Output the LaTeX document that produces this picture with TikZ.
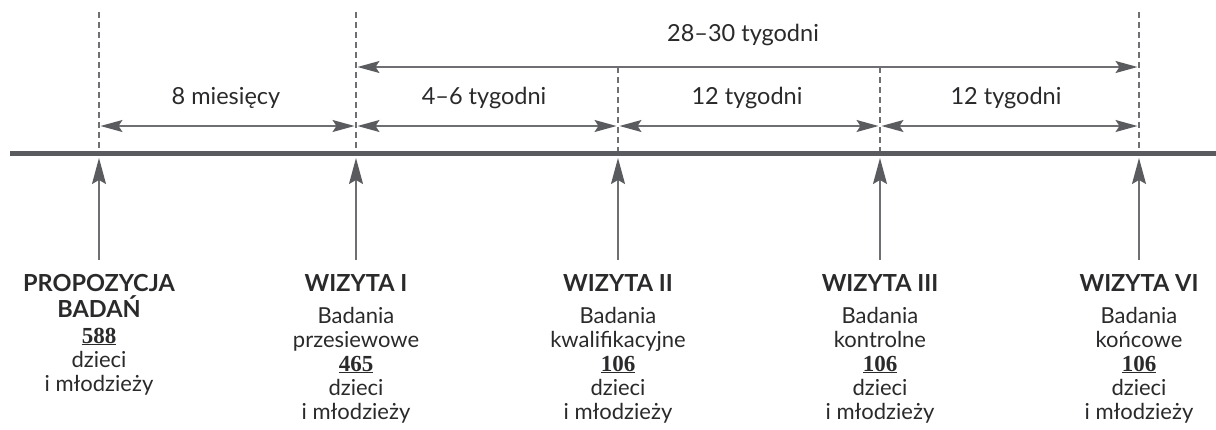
\documentclass[tikz,border=0pt]{standalone}
\usepackage{fontspec}
\setmainfont{Lato}
\newfontfamily\numfont{Liberation Serif}
\usetikzlibrary{arrows.meta}
\definecolor{axiscol}{HTML}{5A5B5E}
\definecolor{thincol}{HTML}{6E6F72}
\definecolor{txtcol}{HTML}{2A2A2C}
\newcommand{\num}[1]{\underline{\fontsize{23}{24}\numfont\bfseries #1}}
\newcommand{\head}[1]{{\fontsize{23.5}{24}\selectfont\bfseries #1}}
\begin{document}
\begin{tikzpicture}[x=1pt,y=-1pt,
  guide/.style={draw=thincol, line width=1.2pt, dash pattern=on 6pt off 4pt},
  dimline/.style={draw=thincol, line width=1.5pt,
    {Stealth[length=22pt,width=12pt,inset=4pt,color=axiscol]}-{Stealth[length=22pt,width=12pt,inset=4pt,color=axiscol]},
    shorten <=1.5pt, shorten >=1.5pt},
  uparrow/.style={draw=thincol, line width=1.5pt,
    -{Stealth[length=26pt,width=14pt,inset=4pt,color=axiscol]}},
  dimlabel/.style={anchor=base, inner sep=0pt, text=txtcol, font=\fontsize{23.5}{26}\selectfont},
  stage/.style={anchor=base, inner sep=0pt, align=center, text=txtcol, font=\fontsize{22}{24}\selectfont},
]
\useasboundingbox (0,0) rectangle (1216,429);

% positions
\foreach \n/\x in {0/99,1/356,2/618,3/880,4/1139}{
  \coordinate (axis\n) at (\x,153);
  \coordinate (low\n) at (\x,126);
  \coordinate (foot\n) at (\x,260);
  \coordinate (tip\n) at (\x,158);
}
\coordinate (top0) at (99,12);
\coordinate (top1) at (356,12);
\coordinate (top2) at (618,67);
\coordinate (top3) at (880,67);
\coordinate (top4) at (1139,12);
\coordinate (high1) at (356,67);
\coordinate (high4) at (1139,67);
\coordinate (axisL) at (10,153);
\coordinate (axisR) at (1216,153);

% dashed guides
\foreach \n in {0,...,4}{ \draw[guide] (top\n) -- (axis\n); }

% main axis
\draw[axiscol, line width=5pt] (axisL) -- (axisR);

% dimension arrows
\draw[dimline] (high1) -- (high4);
\draw[dimline] (low0) -- (low1);
\draw[dimline] (low1) -- (low2);
\draw[dimline] (low2) -- (low3);
\draw[dimline] (low3) -- (low4);

\node[dimlabel] (l5) at (743,41) {28–30 tygodni};
\node[dimlabel] (l1) at (226,104) {8 miesięcy};
\node[dimlabel] (l2) at (484,104) {4–6 tygodni};
\node[dimlabel] (l3) at (747,104) {12 tygodni};
\node[dimlabel] (l4) at (1006,104) {12 tygodni};

% up arrows
\foreach \n in {0,...,4}{ \draw[uparrow] (foot\n) -- (tip\n); }

% stage labels (anchor base = baseline of last line)
\node[stage] (s0) at (99,391) {\head{PROPOZYCJA}\\[2pt]\head{BADAŃ}\\[2pt]\num{588}\\dzieci\\i młodzieży};
\node[stage] (s1) at (356,419) {\head{WIZYTA I}\\[8pt]Badania\\przesiewowe\\\num{465}\\dzieci\\i młodzieży};
\node[stage] (s2) at (618,419) {\head{WIZYTA II}\\[8pt]Badania\\kwalifikacyjne\\\num{106}\\dzieci\\i młodzieży};
\node[stage] (s3) at (880,419) {\head{WIZYTA III}\\[8pt]Badania\\kontrolne\\\num{106}\\dzieci\\i młodzieży};
\node[stage] (s4) at (1139,419) {\head{WIZYTA VI}\\[8pt]Badania\\końcowe\\\num{106}\\dzieci\\i młodzieży};
\end{tikzpicture}
\end{document}
